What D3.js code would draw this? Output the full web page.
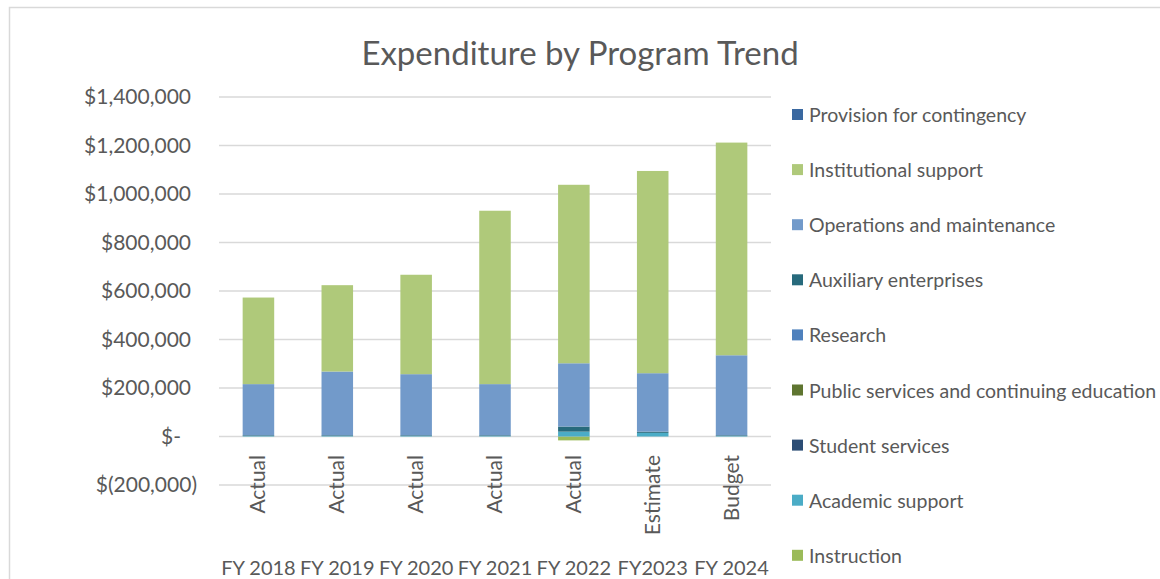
<!DOCTYPE html>
<html>
<head>
<meta charset="utf-8">
<script src="https://cdn.jsdelivr.net/npm/d3@7"></script>
<style>
  body { margin: 0; background: #fff; }
  svg { font-family: Lato, "Open Sans", sans-serif; fill: #595959; }
</style>
</head>
<body>
<script>
// values, in dollars
var years = ["FY 2018", "FY 2019", "FY 2020", "FY 2021", "FY 2022", "FY2023", "FY 2024"];
var kinds = ["Actual", "Actual", "Actual", "Actual", "Actual", "Estimate", "Budget"];

var instruction     = [0, 0, 0, 0, -16000, 0, 0];
var academicSupport = [2000, 2000, 2000, 2000, 20000, 15000, 2000];
var studentServices = [0, 0, 0, 0, 0, 0, 0];
var publicServices  = [0, 0, 0, 0, 0, 0, 0];
var research        = [0, 0, 0, 0, 0, 0, 0];
var auxiliary       = [3000, 3000, 3000, 3000, 21000, 5000, 3000];
var operations      = [211000, 263000, 252000, 211000, 261000, 241000, 330000];
var institutional   = [357000, 356000, 410000, 715000, 736000, 834000, 877000];
var provision       = [0, 0, 0, 0, 0, 0, 0];

var yTicks = [-200000, 0, 200000, 400000, 600000, 800000, 1000000, 1200000, 1400000];

// stacking order, bottom to top
var series = [
  {name: "Instruction", values: instruction, color: "#9bbb59"},
  {name: "Academic support", values: academicSupport, color: "#4bacc6"},
  {name: "Student services", values: studentServices, color: "#2c4d75"},
  {name: "Public services and continuing education", values: publicServices, color: "#5f7530"},
  {name: "Research", values: research, color: "#4f81bd"},
  {name: "Auxiliary enterprises", values: auxiliary, color: "#276a7c"},
  {name: "Operations and maintenance", values: operations, color: "#729aca"},
  {name: "Institutional support", values: institutional, color: "#afc97a"},
  {name: "Provision for contingency", values: provision, color: "#3a68a0"}
];

var W = 1160, H = 579;
var svg = d3.select("body").append("svg").attr("width", W).attr("height", H);

// chart frame
svg.append("rect").attr("x", 9.5).attr("y", 7.5).attr("width", W).attr("height", H)
  .attr("fill", "none").attr("stroke", "#d9d9d9").attr("stroke-width", 1.5);

svg.append("text").attr("x", 580).attr("y", 65).attr("text-anchor", "middle")
  .style("font-size", "33px").text("Expenditure by Program Trend");

var x = d3.scaleBand().domain(d3.range(years.length)).range([219, 771])
  .paddingInner(0.6).paddingOuter(0.3);
var y = d3.scaleLinear().domain([-200000, 1400000]).range([485, 97]);

// gridlines
svg.append("g").selectAll("line").data(yTicks).enter().append("line")
  .attr("x1", 219).attr("x2", 771)
  .attr("y1", function(d) { return y(d); }).attr("y2", function(d) { return y(d); })
  .attr("stroke", "#d9d9d9").attr("stroke-width", 1.5);

// y tick labels, accounting style
var fmt = d3.format(",");
svg.append("g").selectAll("text").data(yTicks).enter().append("text")
  .attr("x", function(d) { return d < 0 ? 197 : d == 0 ? 181 : 191; })
  .attr("y", function(d) { return y(d) + 7; })
  .attr("text-anchor", "end").style("font-size", "21px")
  .text(function(d) {
    if (d == 0) return "$-";
    if (d < 0) return "$(" + fmt(-d) + ")";
    return "$" + fmt(d);
  });

var rows = years.map(function(yr, i) {
  var r = {i: i};
  series.forEach(function(s) { r[s.name] = s.values[i]; });
  return r;
});

var stack = d3.stack().keys(series.map(function(s) { return s.name; }))
  .offset(d3.stackOffsetDiverging);
var layers = stack(rows);

svg.append("g").selectAll("g").data(layers).enter().append("g")
  .attr("fill", function(d, k) { return series[k].color; })
  .selectAll("rect").data(function(d) { return d; }).enter().append("rect")
  .attr("x", function(d) { return x(d.data.i); })
  .attr("width", x.bandwidth())
  .attr("y", function(d) { return y(Math.max(d[0], d[1])); })
  .attr("height", function(d) { return Math.abs(y(d[0]) - y(d[1])); });

// inner category labels, rotated
svg.append("g").selectAll("text").data(kinds).enter().append("text")
  .attr("transform", function(d, i) {
    return "translate(" + (x(i) + x.bandwidth() / 2 + 7) + ",455) rotate(-90)";
  })
  .attr("text-anchor", "end").style("font-size", "21px")
  .text(function(d) { return d; });

// outer category labels
svg.append("g").selectAll("text").data(years).enter().append("text")
  .attr("x", function(d, i) { return x(i) + x.bandwidth() / 2; })
  .attr("y", 575).attr("text-anchor", "middle").style("font-size", "20px")
  .text(function(d) { return d; });

// legend, listed top series first
var legend = svg.append("g").selectAll("g").data(series.slice().reverse()).enter().append("g")
  .attr("transform", function(d, i) { return "translate(792," + (115 + i * 55.1) + ")"; });
legend.append("rect").attr("x", 0).attr("y", -6).attr("width", 11).attr("height", 11)
  .attr("fill", function(d) { return d.color; });
legend.append("text").attr("x", 17).attr("y", 7).style("font-size", "19.5px")
  .text(function(d) { return d.name; });
</script>
</body>
</html>
